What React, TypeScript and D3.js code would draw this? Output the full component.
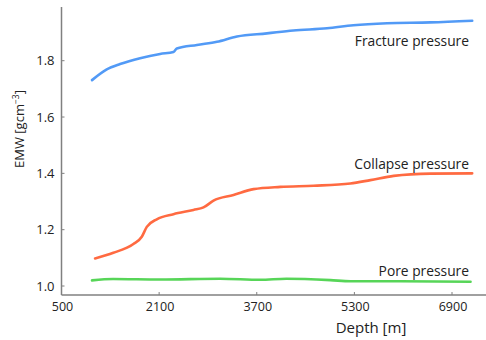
import React from "react";
import * as d3 from "d3";

// Depth [m] and EMW [g/cm3]
const fractureDepth = [1000, 1242, 1460, 1788, 2116, 2335, 2390, 2719, 3047, 3375, 3867, 4299, 4852, 5284, 5837, 6547, 7231];
const fractureEmw = [1.731, 1.769, 1.788, 1.809, 1.824, 1.831, 1.843, 1.856, 1.867, 1.886, 1.897, 1.907, 1.915, 1.926, 1.933, 1.936, 1.942];

const collapseDepth = [1050, 1350, 1678, 1816, 1898, 2062, 2335, 2663, 2827, 2991, 3319, 3648, 4086, 4632, 5234, 5563, 5945, 6547, 7231];
const collapseEmw = [1.098, 1.118, 1.149, 1.175, 1.21, 1.237, 1.255, 1.27, 1.279, 1.303, 1.323, 1.344, 1.352, 1.356, 1.364, 1.376, 1.391, 1.399, 1.4];

const poreDepth = [1000, 1345, 2116, 3100, 3757, 4184, 4906, 5234, 6055, 7204];
const poreEmw = [1.02, 1.025, 1.023, 1.026, 1.022, 1.026, 1.021, 1.017, 1.017, 1.015];

const xTicks = [500, 2100, 3700, 5300, 6900];
const yTicks = [1.0, 1.2, 1.4, 1.6, 1.8];

const seriesNames = ["Fracture pressure", "Collapse pressure", "Pore pressure"];
const seriesColors = ["#3f8ff5", "#ff5a2c", "#45d046"];

const W = 486;
const H = 340;
const left = 61.5;
const bottom = 295;
const font = "'Open Sans', 'DejaVu Sans', sans-serif";

export default function App() {
  const x = d3.scaleLinear().domain([500, 6900]).range([left, 452]);
  const y = d3.scaleLinear().domain([1.0, 1.8]).range([286, 60.7]);

  const line = d3
    .line<[number, number]>()
    .x((d) => x(d[0]))
    .y((d) => y(d[1]))
    .curve(d3.curveMonotoneX);

  const series = [
    d3.zip(fractureDepth, fractureEmw) as [number, number][],
    d3.zip(collapseDepth, collapseEmw) as [number, number][],
    d3.zip(poreDepth, poreEmw) as [number, number][],
  ];
  const labelY = [46, 169, 276];

  return (
    <svg
      width={W}
      height={H}
      style={{ position: "absolute", left: 0, top: 0, background: "#fff" }}
      fontFamily={font}
    >
      {/* axes */}
      <line x1={left} x2={left} y1={7} y2={bottom} stroke="#808080" strokeWidth={1.5} />
      <line x1={left} x2={W} y1={bottom} y2={bottom} stroke="#808080" strokeWidth={1.5} />

      {yTicks.map((t) => (
        <g key={t}>
          <line x1={left} x2={left + 3} y1={y(t)} y2={y(t)} stroke="#808080" />
          <text x={left - 7} y={y(t)} dy="0.35em" textAnchor="end" fontSize={13} fill="#222">
            {t.toFixed(1)}
          </text>
        </g>
      ))}
      {xTicks.map((t) => (
        <g key={t}>
          <line x1={x(t)} x2={x(t)} y1={bottom} y2={bottom - 3} stroke="#808080" />
          <text x={x(t) + 1} y={311} textAnchor="middle" fontSize={12.5} fill="#222">
            {t}
          </text>
        </g>
      ))}

      <text x={371} y={333} textAnchor="middle" fontSize={15} fill="#222">
        Depth [m]
      </text>
      <text
        transform="translate(24,129) rotate(-90)"
        textAnchor="middle"
        fontSize={13}
        fill="#222"
      >
        EMW [gcm<tspan dy="-5" fontSize={8.5}>−3</tspan>
        <tspan dy="5">]</tspan>
      </text>

      {series.map((s, i) => (
        <path
          key={i}
          d={line(s) ?? ""}
          fill="none"
          stroke={seriesColors[i]}
          strokeWidth={2.6}
          strokeLinecap="round"
          strokeOpacity={0.9}
        />
      ))}
      {seriesNames.map((n, i) => (
        <text key={n} x={469} y={labelY[i]} textAnchor="end" fontSize={13.8} fill="#222">
          {n}
        </text>
      ))}
    </svg>
  );
}
